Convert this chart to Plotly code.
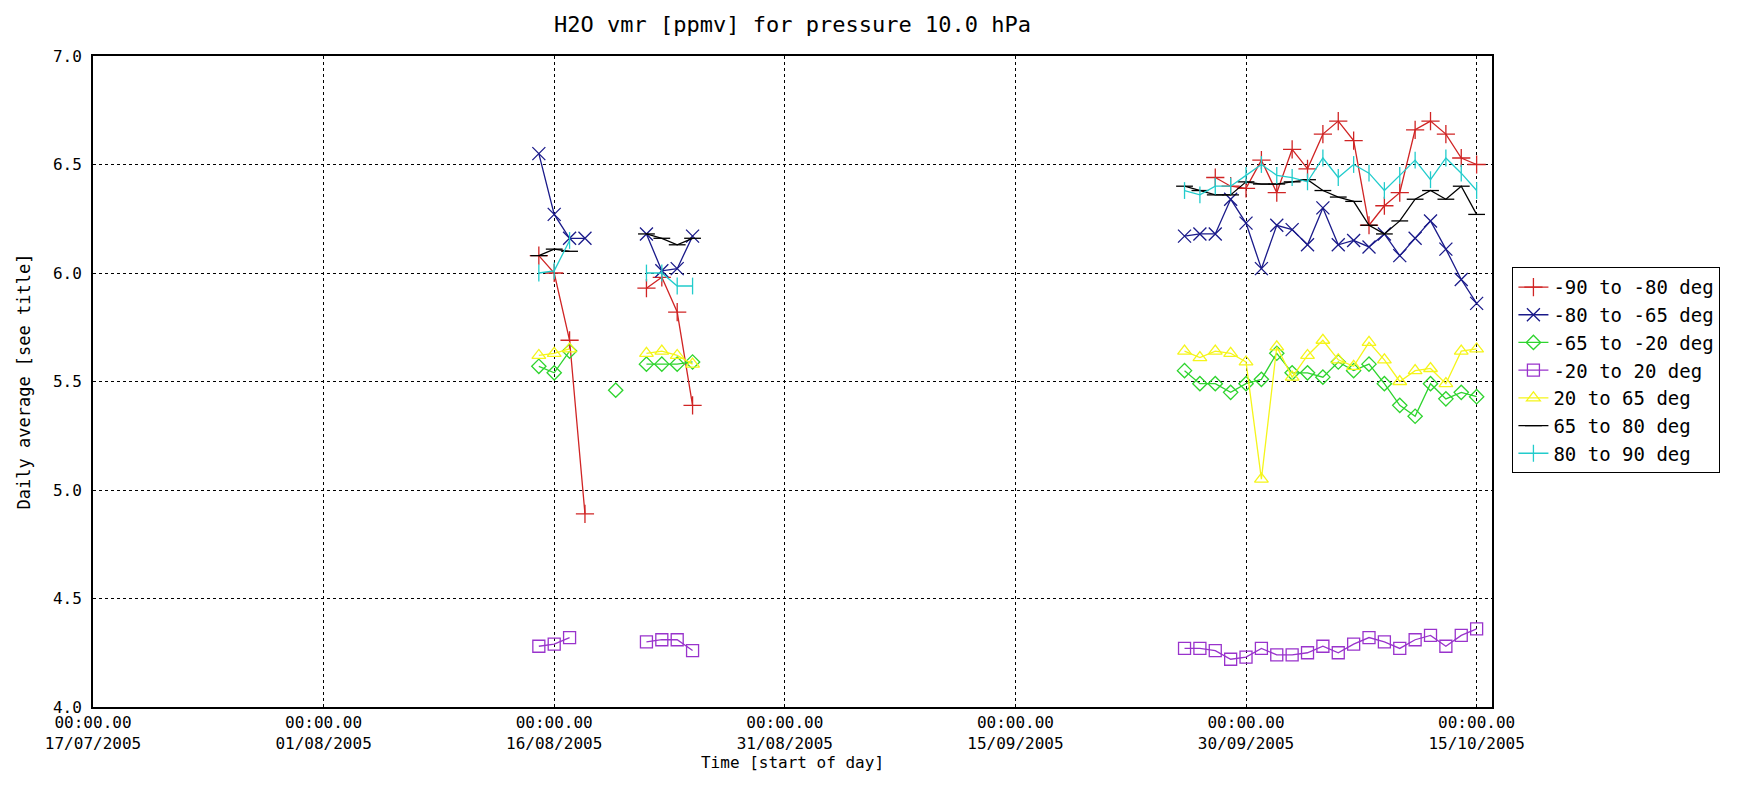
import plotly.graph_objects as go

# ---- data ----
GROUP_DATES = [
    ["2005-08-15", "2005-08-16", "2005-08-17", "2005-08-18"],
    ["2005-08-20"],
    ["2005-08-22", "2005-08-23", "2005-08-24", "2005-08-25"],
    ["2005-09-26", "2005-09-27", "2005-09-28", "2005-09-29", "2005-09-30",
     "2005-10-01", "2005-10-02", "2005-10-03", "2005-10-04", "2005-10-05",
     "2005-10-06", "2005-10-07", "2005-10-08", "2005-10-09", "2005-10-10",
     "2005-10-11", "2005-10-12", "2005-10-13", "2005-10-14", "2005-10-15"],
]

red_m90_m80 = [
    [6.08, 6.00, 5.69, 4.89],
    [None],
    [5.93, 5.98, 5.82, 5.39],
    [None, None, 6.44, 6.40, 6.39, 6.52, 6.37, 6.57, 6.48, 6.64,
     6.70, 6.61, 6.22, 6.31, 6.37, 6.66, 6.70, 6.64, 6.53, 6.50],
]
blue_m80_m65 = [
    [6.55, 6.27, 6.16, 6.16],
    [None],
    [6.18, 6.01, 6.02, 6.17],
    [6.17, 6.18, 6.18, 6.34, 6.23, 6.02, 6.22, 6.20, 6.13, 6.30,
     6.13, 6.15, 6.12, 6.18, 6.08, 6.16, 6.24, 6.11, 5.97, 5.86],
]
green_m65_m20 = [
    [5.57, 5.54, 5.64, None],
    [5.46],
    [5.58, 5.58, 5.58, 5.59],
    [5.55, 5.49, 5.49, 5.45, 5.49, 5.51, 5.63, 5.54, 5.54, 5.52,
     5.59, 5.55, 5.58, 5.49, 5.39, 5.34, 5.49, 5.42, 5.45, 5.43],
]
purple_m20_20 = [
    [4.28, 4.29, 4.32, None],
    [None],
    [4.30, 4.31, 4.31, 4.26],
    [4.27, 4.27, 4.26, 4.22, 4.23, 4.27, 4.24, 4.24, 4.25, 4.28,
     4.25, 4.29, 4.32, 4.30, 4.27, 4.31, 4.33, 4.28, 4.33, 4.36],
]
yellow_20_65 = [
    [5.62, 5.63, 5.65, None],
    [None],
    [5.63, 5.64, 5.62, 5.58],
    [5.64, 5.61, 5.64, 5.63, 5.59, 5.05, 5.66, 5.52, 5.62, 5.69,
     5.60, 5.57, 5.68, 5.60, 5.50, 5.55, 5.56, 5.49, 5.64, 5.65],
]
black_65_80 = [
    [6.08, 6.11, 6.10, None],
    [None],
    [6.18, 6.16, 6.13, 6.16],
    [6.40, 6.38, 6.36, 6.36, 6.42, 6.41, 6.41, 6.42, 6.43, 6.38,
     6.35, 6.33, 6.22, 6.18, 6.24, 6.34, 6.38, 6.34, 6.40, 6.27],
]
cyan_80_90 = [
    [6.00, 6.01, 6.15, None],
    [None],
    [6.00, 6.00, 5.94, 5.94],
    [6.38, 6.36, 6.40, 6.40, 6.45, 6.50, 6.45, 6.44, 6.42, 6.53,
     6.44, 6.50, 6.46, 6.38, 6.45, 6.52, 6.43, 6.53, 6.46, 6.38],
]

SERIES_NAMES = ["-90 to -80 deg", "-80 to -65 deg", "-65 to -20 deg",
                "-20 to 20 deg", "20 to 65 deg", "65 to 80 deg", "80 to 90 deg"]
SERIES_VALUES = [red_m90_m80, blue_m80_m65, green_m65_m20, purple_m20_20,
                 yellow_20_65, black_65_80, cyan_80_90]

TICK_DATES = ["2005-07-17", "2005-08-01", "2005-08-16", "2005-08-31",
              "2005-09-15", "2005-09-30", "2005-10-15"]
TICK_TEXT = ["00:00.00<br>17/07/2005", "00:00.00<br>01/08/2005",
             "00:00.00<br>16/08/2005", "00:00.00<br>31/08/2005",
             "00:00.00<br>15/09/2005", "00:00.00<br>30/09/2005",
             "00:00.00<br>15/10/2005"]
Y_TICKS = [4.0, 4.5, 5.0, 5.5, 6.0, 6.5, 7.0]

# ---- styles ----
STYLES = [
    dict(color="#d02424", symbol="cross-thin", size=13),
    dict(color="#1a1a8a", symbol="x-thin", size=13),
    dict(color="#2ed42e", symbol="diamond-open", size=11),
    dict(color="#9933cc", symbol="square-open", size=12),
    dict(color="#f5f51a", symbol="triangle-up-open", size=12),
    dict(color="#000000", symbol="line-ew", size=12),
    dict(color="#22cccc", symbol="line-ns", size=12),
]

def build_xy(groups):
    xs, ys = [], []
    for i, (dates, vals) in enumerate(zip(GROUP_DATES, groups)):
        if i > 0:
            xs.append(None)
            ys.append(None)
        xs.extend(dates)
        ys.extend(vals)
    return xs, ys

fig = go.Figure()
for name, vals, st in zip(SERIES_NAMES, SERIES_VALUES, STYLES):
    x, y = build_xy(vals)
    fig.add_trace(go.Scatter(
        x=x, y=y, name=name, mode="lines+markers",
        line=dict(color=st["color"], width=1.3),
        marker=dict(symbol=st["symbol"], size=st["size"],
                    color=st["color"],
                    line=dict(color=st["color"], width=1.3)),
        connectgaps=False,
    ))

FONT = "DejaVu Sans Mono"
fig.update_layout(
    width=1737, height=787,
    paper_bgcolor="white", plot_bgcolor="white",
    margin=dict(l=85, r=253, t=48, b=88),
    font=dict(family=FONT, size=16, color="black"),
    title=dict(text="H2O vmr [ppmv] for pressure 10.0 hPa",
               x=0.5 * (85 + 1484) / 1737, xanchor="center",
               y=1 - 16 / 787, yanchor="middle", yref="container",
               font=dict(size=22, family=FONT)),
    legend=dict(x=1.0146, xanchor="left", y=0.6756, yanchor="top",
                bordercolor="black", borderwidth=1,
                font=dict(size=19, family=FONT),
                bgcolor="white", tracegroupgap=0),
    showlegend=True,
)
fig.update_xaxes(
    type="date", range=["2005-07-17", "2005-10-16"],
    tickvals=TICK_DATES, ticktext=TICK_TEXT,
    showgrid=True, gridcolor="black", griddash="dot", gridwidth=1,
    showline=True, mirror=True, linecolor="black", linewidth=2,
    ticks="", zeroline=False,
    tickfont=dict(size=16, family=FONT),
    title=dict(text="Time [start of day]", font=dict(size=16, family=FONT),
               standoff=2),
)
fig.update_yaxes(
    range=[4.0, 7.0], tickvals=Y_TICKS,
    tickformat=".1f",
    showgrid=True, gridcolor="black", griddash="dot", gridwidth=1,
    showline=True, mirror=True, linecolor="black", linewidth=2,
    ticks="outside", ticklen=6, tickcolor="rgba(0,0,0,0)",
    zeroline=False,
    tickfont=dict(size=16, family=FONT),
    title=dict(text="Daily average [see title]", font=dict(size=17, family=FONT),
               standoff=18),
)

fig.write_html("out.html")
